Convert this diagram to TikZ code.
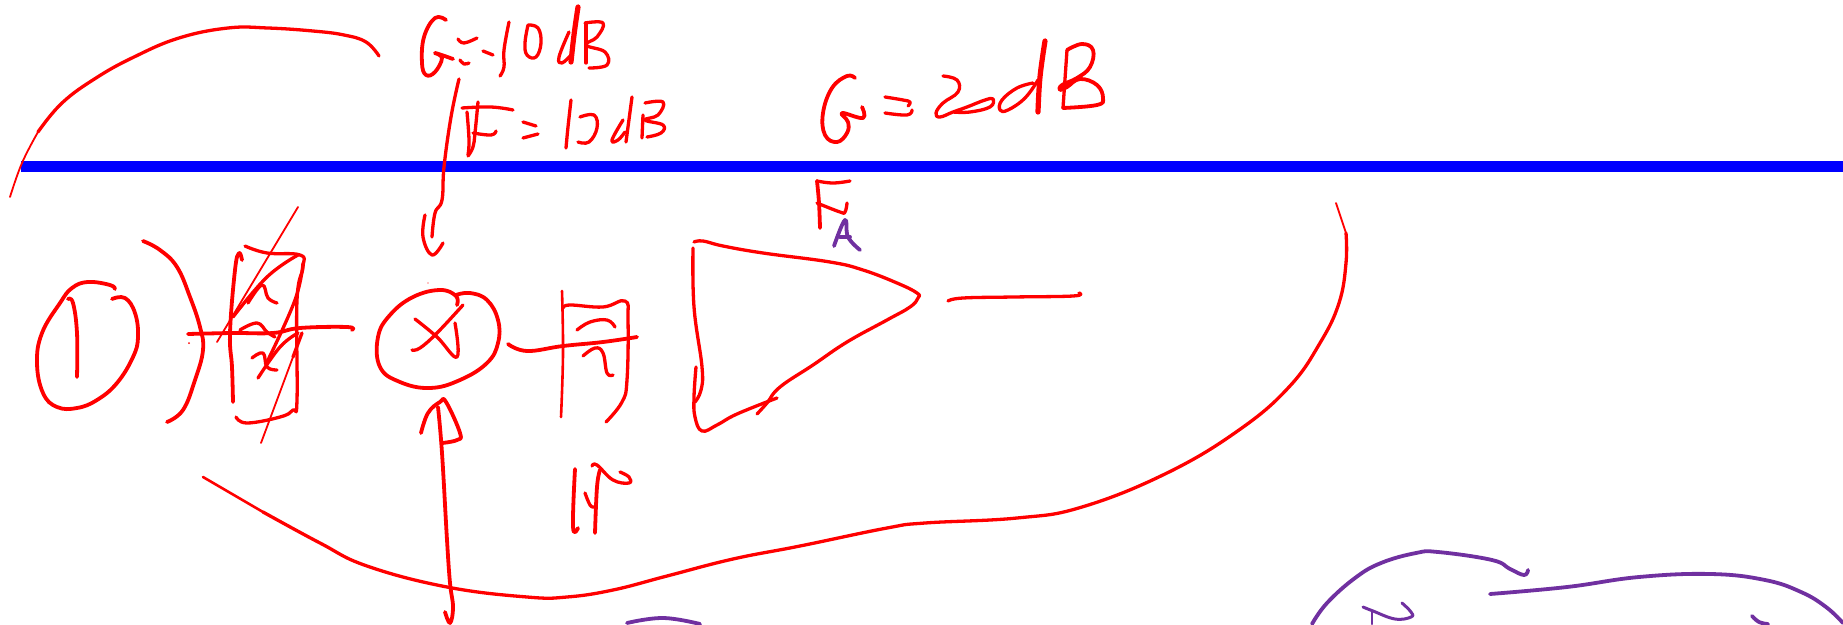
\documentclass[tikz,border=0pt]{standalone}
\definecolor{inkred}{RGB}{255,0,0}
\definecolor{inkpurple}{RGB}{112,48,160}
\tikzset{
  ink/.style={draw=inkred,line width=3.3pt,line cap=round,line join=round},
  inkthin/.style={ink,line width=1.8pt},
  inkmid/.style={ink,line width=2.6pt},
  inkbold/.style={ink,line width=3.8pt},
  inkfat/.style={ink,line width=5.2pt},
  pink/.style={ink,draw=inkpurple,line width=3.8pt},
}
\newcommand\stroke[2][]{\draw[ink,#1] plot[smooth,tension=.7] coordinates{#2};}
\begin{document}
\begin{tikzpicture}[x=1pt,y=-1pt]
\useasboundingbox (0,0) rectangle (1843,624);
\fill[white] (0,0) rectangle (1843,624);
% blue rule
\fill[blue] (21,161) rectangle (1843,172);
% top arc
\stroke[inkthin]{(10,197)(22,163)(38,132)}
\stroke{(38,132)(62,103)(96,78)(134,57)(179,38)(228,28)(268,28)(313,31)(344,35)(366,42)(379,56)}
% G = -10 dB
\stroke[inkbold]{(446,20)(435,18)(424,37)(422,63)(426,75)(435,72)(442,58)(435,53)(453,59)}
\stroke{(458,39)(464,43)(477,38)}
\stroke{(483,51)(493,55)}
\stroke{(460,60)(464,64)(469,63)}
\stroke{(509,22)(504,50)(504,67)(500,76)}
\stroke{(528,25)(525,43)(527,55)(536,57)(541,43)(538,28)(528,25)}
\stroke[inkfat]{(578,7)(574,35)(571,62)}
\stroke{(569,32)(559,57)(562,63)(571,55)}
\stroke{(586,23)(586,63)}
\stroke{(585,23)(603,23)(597,37)(586,45)(605,52)(607,65)(589,68)}
% leader to mixer
\stroke{(459,79)(451,117)(444,167)(442,200)(435,213)(432,237)}
\stroke{(425,215)(423,237)(432,255)(443,243)}
% F = 10 dB
\stroke{(462,108)(491,107)(513,110)}
\stroke{(478,102)(475,133)(473,147)(468,156)}
\stroke{(467,112)(469,140)(468,155)}
\stroke{(473,133)(491,135)(496,131)}
\stroke{(523,122)(536,126)}
\stroke{(523,138)(538,134)}
\stroke{(571,100)(568,127)(566,148)}
\stroke{(580,117)(594,115)(597,128)(589,142)(578,142)}
\stroke{(632,97)(626,142)}
\stroke{(623,120)(612,140)(618,140)(625,132)}
\stroke{(643,115)(642,138)}
\stroke{(645,103)(663,102)(658,115)(645,120)(663,125)(661,133)(647,137)}
% G = 20 dB
\stroke[inkbold]{(855,78)(847,76)(832,88)(823,113)(825,135)(837,142)(847,133)(848,122)(842,113)(863,118)(862,107)}
\stroke{(885,97)(903,100)(910,102)(908,106)}
\stroke{(885,113)(907,115)(912,110)}
\stroke{(943,76)(957,80)(958,92)(943,103)(936,113)(940,117)(953,112)(967,107)(985,100)(993,99)(990,107)(970,112)(953,112)}
\stroke[inkfat]{(1045,41)(1040,77)(1038,112)}
\stroke{(1033,83)(1017,88)(1002,100)(1000,110)(1008,110)(1025,98)(1038,80)}
\stroke{(1067,50)(1063,108)}
\stroke[inkbold]{(1067,50)(1082,44)(1093,50)(1090,67)(1077,78)(1062,85)(1060,90)(1067,87)(1080,79)(1097,85)(1103,98)(1097,105)(1063,108)}
% F_A
\stroke{(817,181)(833,183)(850,181)}
\stroke[inkbold]{(817,181)(819,203)(820,228)}
\stroke{(817,203)(840,212)(845,212)(847,203)}
\stroke[pink]{(834,246)(845,220)(848,237)(860,250)}
\stroke[pink]{(840,237)(850,237)}
% source circle
\stroke[inkbold]{(115,289)(110,285)(88,282)(72,288)(60,303)(42,333)(37,363)(43,393)(57,407)(77,408)(97,400)(117,383)(133,357)(138,337)(135,313)(125,298)(112,299)}
\stroke[inkbold]{(68,299)(73,303)(77,333)(77,377)}
\stroke[inkbold]{(143,241)(160,250)(177,267)(190,297)(200,327)(203,350)(195,380)(183,410)(167,422)}
% crossed filter
\stroke[inkbold]{(188,334)(233,333)(273,333)(300,328)(347,327)(352,330)}
\fill[inkred] (189,343) circle (1pt);
\stroke[inkbold]{(242,260)(239,253)(235,270)(230,333)(232,367)(233,402)}
\stroke{(245,246)(267,253)(300,255)(303,267)(297,300)(297,400)(293,410)(280,417)(247,423)(236,417)}
\stroke[inkthin]{(298,207)(217,342)}
\stroke{(298,255)(267,277)(233,317)}
\stroke{(248,303)(262,285)(268,298)(277,303)}
\stroke{(240,330)(257,323)(267,332)(275,337)}
\stroke{(303,263)(295,300)(268,360)}
\stroke{(298,333)(280,347)(258,378)}
\stroke{(302,333)(293,357)}
\stroke[inkthin]{(293,357)(261,443)}
\stroke{(252,358)(263,353)(267,367)(277,370)}
% mixer
\stroke[inkbold]{(457,305)(456,296)(440,290)(413,297)(390,315)(378,337)(380,367)(400,382)(430,388)(460,380)(487,363)(498,343)(498,320)(487,300)(470,293)(456,295)}
\stroke{(415,319)(437,337)(457,357)(455,323)}
\stroke{(412,350)(420,348)(437,333)(463,305)}
\fill[inkred] (428,283) circle (.6pt);
% LO arrow
\stroke[inkbold]{(438,407)(442,453)(447,540)(450,583)(453,607)(450,623)(445,612)}
\stroke[inkbold]{(421,433)(428,413)(440,402)(446,402)(460,433)(457,440)(442,443)}
% second filter
\stroke[inkbold]{(508,344)(527,351)(563,346)(603,342)(637,337)}
\stroke[inkmid]{(562,291)(563,353)(561,417)}
\stroke{(563,308)(570,305)(603,307)(625,301)(628,320)(627,380)(622,402)(606,422)}
\stroke{(577,330)(590,322)(607,320)(615,327)}
\stroke{(583,356)(595,348)(603,353)(607,373)(613,375)}
% IF
\stroke[inkbold]{(575,469)(573,527)(578,528)}
\stroke{(585,493)(590,505)(594,507)}
\stroke[inkbold]{(595,533)(597,487)(600,470)}
\stroke{(592,466)(597,465)(613,480)(629,483)(629,477)(620,472)}
% amplifier
\stroke{(694,242)(703,241)(723,246)(763,253)(830,262)(863,270)(897,283)(917,293)(918,298)(910,307)(887,320)(847,342)(813,365)(780,387)(767,403)(757,414)}
\stroke{(693,248)(694,307)(702,367)(701,390)(695,402)}
\stroke{(696,367)(694,397)(695,417)(702,431)(717,425)(737,414)(777,398)}
\stroke{(948,301)(963,298)(1013,297)(1073,296)(1079,293)}
% enclosing curve
\stroke[inkthin]{(1336,203)(1346,233)}
\stroke{(1346,233)(1346,263)(1339,303)(1320,343)(1289,387)(1239,430)(1167,473)(1082,507)(1017,518)(925,523)(887,528)(800,546)(733,559)(667,576)(613,590)(567,597)(527,597)(447,587)(367,566)(320,543)(263,512)}
\stroke[inkmid]{(263,512)(203,477)}
% purple, bottom right
\begin{scope}
\clip (0,0) rectangle (1843,624);
\stroke[pink]{(627,623)(663,618)(700,624)}
\stroke[pink]{(1312,624)(1327,603)(1355,578)(1381,563)(1416,553)(1438,552)(1492,560)(1510,569)(1524,575)(1528,570)}
\stroke[pink]{(1490,594)(1567,587)(1639,577)(1711,574)(1765,580)(1801,592)(1826,607)(1843,623)}
\stroke[pink,line width=3pt]{(1363,607)(1373,611)(1395,619)(1411,617)(1411,612)(1402,603)}
\stroke[pink,line width=2.6pt]{(1372,611)(1372,624)}
\stroke[pink]{(1752,616)(1759,622)(1768,624)}
\end{scope}
\end{tikzpicture}
\end{document}
